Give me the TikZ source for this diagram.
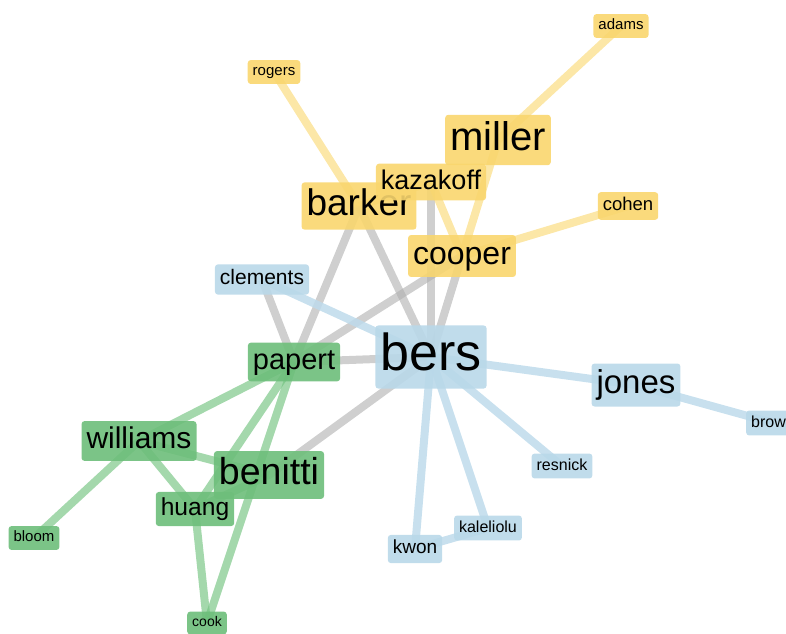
\documentclass[tikz,border=0pt]{standalone}
\usepackage{fontspec}
\setmainfont{Liberation Sans}
\usetikzlibrary{backgrounds}
\definecolor{yfill}{RGB}{249,214,110}
\definecolor{bfill}{RGB}{185,216,233}
\definecolor{gfill}{RGB}{109,190,122}
\definecolor{yedge}{RGB}{250,218,120}
\definecolor{bedge}{RGB}{190,219,235}
\definecolor{gedge}{RGB}{115,195,128}
\definecolor{kedge}{RGB}{175,175,175}
\newcommand{\nd}[6]{%
  \pgfmathsetmacro\ndTH{0.74*#4}%
  \pgfmathsetmacro\ndTD{0.22*#4}%
  \pgfmathsetmacro\ndYS{0.05*#4+4}%
  \node[#5, font=\fontsize{#4}{#4}\selectfont, text height=\ndTH pt, text depth=\ndTD pt, inner ysep=\ndYS pt] (#1) at (#2,#3) {#6};}
\tikzset{
  box/.style={rounded corners=3pt, fill opacity=0.9, text opacity=1, inner xsep=5pt, text=black},
  yb/.style={box, fill=yfill},
  bb/.style={box, fill=bfill},
  gb/.style={box, fill=gfill},
  edge/.style={line width=8pt, draw opacity=0.65},
  ye/.style={edge, draw=yedge},
  be/.style={edge, draw=bedge, draw opacity=0.85},
  ge/.style={edge, draw=gedge},
  ke/.style={edge, draw=kedge, draw opacity=0.6}
}
\begin{document}
\begin{tikzpicture}[x=1pt,y=-1pt]
\useasboundingbox (0,0) rectangle (786,633);
\clip (0,0) rectangle (786,633);
% yellow group
\nd{adams}{621}{26}{15}{yb}{adams}
\nd{rogers}{274}{72}{15}{yb}{rogers}
\nd{cohen}{628}{206}{18.5}{yb}{cohen}
\nd{barker}{359}{206}{37}{yb}{barker}
\nd{miller}{498}{140}{40}{yb}{miller}
\nd{kazakoff}{431}{182}{27}{yb}{kazakoff}
\nd{cooper}{462}{256}{32}{yb}{cooper}
% blue group
\nd{clements}{262}{279.5}{21}{bb}{clements}
\nd{bers}{431}{357}{52}{bb}{bers}
\nd{jones}{636}{385}{33}{bb}{jones}
\nd{brown}{773}{423}{16}{bb}{brown}
\nd{resnick}{562}{466}{16}{bb}{resnick}
\nd{kaleliolu}{488}{528}{16}{bb}{kaleliolu}
\nd{kwon}{415}{549}{19}{bb}{kwon}
% green group
\nd{papert}{294}{362}{29}{gb}{papert}
\nd{williams}{139}{441}{30}{gb}{williams}
\nd{benitti}{269}{475}{37.5}{gb}{benitti}
\nd{huang}{195}{509}{24.6}{gb}{huang}
\nd{bloom}{34}{538}{15}{gb}{bloom}
\nd{cook}{207}{623}{14}{gb}{cook}
\begin{scope}[on background layer]
% gray edges
\draw[ke] (barker.center) -- (papert.center);
\draw[ke] (barker.center) -- (bers.center);
\draw[ke] (kazakoff.center) -- (bers.center);
\draw[ke] (cooper.center) -- (bers.center);
\draw[ke] (cooper.center) -- (papert.center);
\draw[ke] (clements.center) -- (papert.center);
\draw[ke] (papert.center) -- (bers.center);
\draw[ke] (benitti.center) -- (bers.center);
% yellow edges
\draw[ye] (rogers.center) -- (barker.center);
\draw[ye] (adams.center) -- (miller.center);
\draw[ye] (miller.center) -- (cooper.center);
\draw[ye] (kazakoff.center) -- (cooper.center);
\draw[ye] (cohen.center) -- (cooper.center);
\draw[ye] (barker.center) -- (kazakoff.center);
% blue edges
\draw[be] (clements.center) -- (bers.center);
\draw[be] (bers.center) -- (jones.center);
\draw[be] (jones.center) -- (brown.center);
\draw[be] (bers.center) -- (resnick.center);
\draw[be] (bers.center) -- (kwon.center);
\draw[be] (bers.center) -- (kaleliolu.center);
\draw[be] (kwon.center) -- (kaleliolu.center);
% green edges
\draw[ge] (papert.center) -- (williams.center);
\draw[ge] (papert.center) -- (huang.center);
\draw[ge] (papert.center) -- (cook.center);
\draw[ge] (williams.center) -- (bloom.center);
\draw[ge] (williams.center) -- (benitti.center);
\draw[ge] (williams.center) -- (huang.center);
\draw[ge] (huang.center) -- (cook.center);
\draw[ge] (huang.center) -- (benitti.center);
\end{scope}
\end{tikzpicture}
\end{document}
